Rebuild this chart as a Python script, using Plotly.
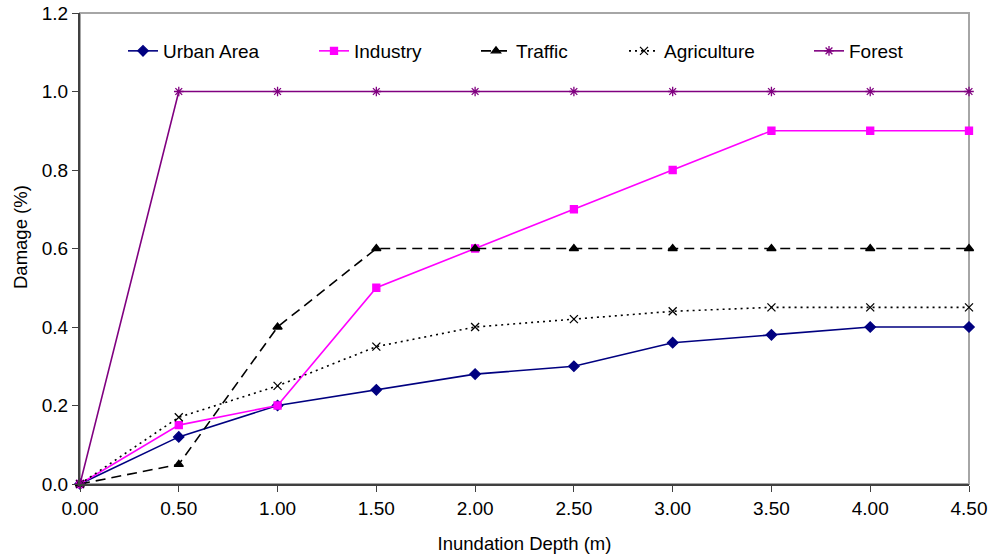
import plotly.graph_objects as go

# Inundation depth (m) and damage ratios per land-use class
depth = [0.0, 0.5, 1.0, 1.5, 2.0, 2.5, 3.0, 3.5, 4.0, 4.5]
depth_labels = ["0.00", "0.50", "1.00", "1.50", "2.00", "2.50", "3.00", "3.50", "4.00", "4.50"]

urban_area = [0.0, 0.12, 0.20, 0.24, 0.28, 0.30, 0.36, 0.38, 0.40, 0.40]
industry = [0.0, 0.15, 0.20, 0.50, 0.60, 0.70, 0.80, 0.90, 0.90, 0.90]
traffic = [0.0, 0.05, 0.40, 0.60, 0.60, 0.60, 0.60, 0.60, 0.60, 0.60]
agriculture = [0.0, 0.17, 0.25, 0.35, 0.40, 0.42, 0.44, 0.45, 0.45, 0.45]
forest = [0.0, 1.0, 1.0, 1.0, 1.0, 1.0, 1.0, 1.0, 1.0, 1.0]

y_ticks = [0.0, 0.2, 0.4, 0.6, 0.8, 1.0, 1.2]
y_tick_labels = ["0.0", "0.2", "0.4", "0.6", "0.8", "1.0", "1.2"]

FONT = "Liberation Sans, Arial, sans-serif"
W, H = 991, 554
L, R, T, B = 80, 22, 13, 70
plot_w = W - L - R
plot_h = H - T - B

series = [
    ("Urban Area", urban_area, "#000080", "solid", "diamond", 8, "legend"),
    ("Industry", industry, "#FF00FF", "solid", "square", 7, "legend2"),
    ("Traffic", traffic, "#000000", "10px,6px", "triangle-up", 8, "legend3"),
    ("Agriculture", agriculture, "#000000", "2px,4px", "x-thin-open", 8, "legend4"),
    ("Forest", forest, "#800080", "solid", "asterisk-open", 8, "legend5"),
]

fig = go.Figure()
for name, vals, color, dash, symbol, size, leg in series:
    fig.add_trace(go.Scatter(
        x=depth, y=vals, name=name, mode="lines+markers",
        line=dict(color=color, width=1.6, dash=dash),
        marker=dict(symbol=symbol, size=size, color=color,
                    line=dict(color=color, width=1.3)),
        cliponaxis=False, legend=leg,
    ))

# one legend per entry so each sits at its own spot along the top
text_starts = [163, 354, 516, 664, 849]
legend_y = (H - B - 51) / plot_h
legends = {}
for i, px in enumerate(text_starts):
    key = "legend" if i == 0 else f"legend{i + 1}"
    legends[key] = dict(
        x=(px - 40 - L) / plot_w, y=legend_y, xanchor="left", yanchor="middle",
        bgcolor="rgba(0,0,0,0)", borderwidth=0,
        font=dict(family=FONT, size=19, color="#000000"),
    )

fig.update_layout(
    width=W, height=H,
    margin=dict(l=L, r=R, t=T, b=B, autoexpand=False),
    plot_bgcolor="#FFFFFF", paper_bgcolor="#FFFFFF",
    font=dict(family=FONT, size=18, color="#000000"),
    showlegend=True,
    **legends,
    shapes=[dict(type="rect", xref="paper", yref="paper", x0=0, y0=0, x1=1, y1=1,
                 line=dict(color="#A6A6A6", width=2), layer="below")],
    annotations=[dict(
        text="Damage (%)", textangle=-90, showarrow=False,
        xref="paper", yref="paper", x=(20 - L) / plot_w, y=(H - B - 237) / plot_h,
        xanchor="center", yanchor="middle",
        font=dict(family=FONT, size=18.5, color="#000000"),
    )],
)

fig.update_xaxes(
    range=[0, 4.5], tickmode="array", tickvals=depth, ticktext=depth_labels,
    showgrid=False, zeroline=False, showline=True, linecolor="#404040", linewidth=2,
    ticks="outside", ticklen=6, tickcolor="#404040", tickwidth=1, automargin=False,
    tickfont=dict(family=FONT, size=19),
    title=dict(text="Inundation Depth (m)", font=dict(family=FONT, size=18.5), standoff=19),
)
fig.update_yaxes(
    range=[0, 1.2], tickmode="array", tickvals=y_ticks, ticktext=y_tick_labels,
    showgrid=False, zeroline=False, showline=True, linecolor="#404040", linewidth=2,
    ticks="outside", ticklen=6, tickcolor="#404040", tickwidth=1, automargin=False,
    tickfont=dict(family=FONT, size=19),
)

fig.write_html("out.html")
